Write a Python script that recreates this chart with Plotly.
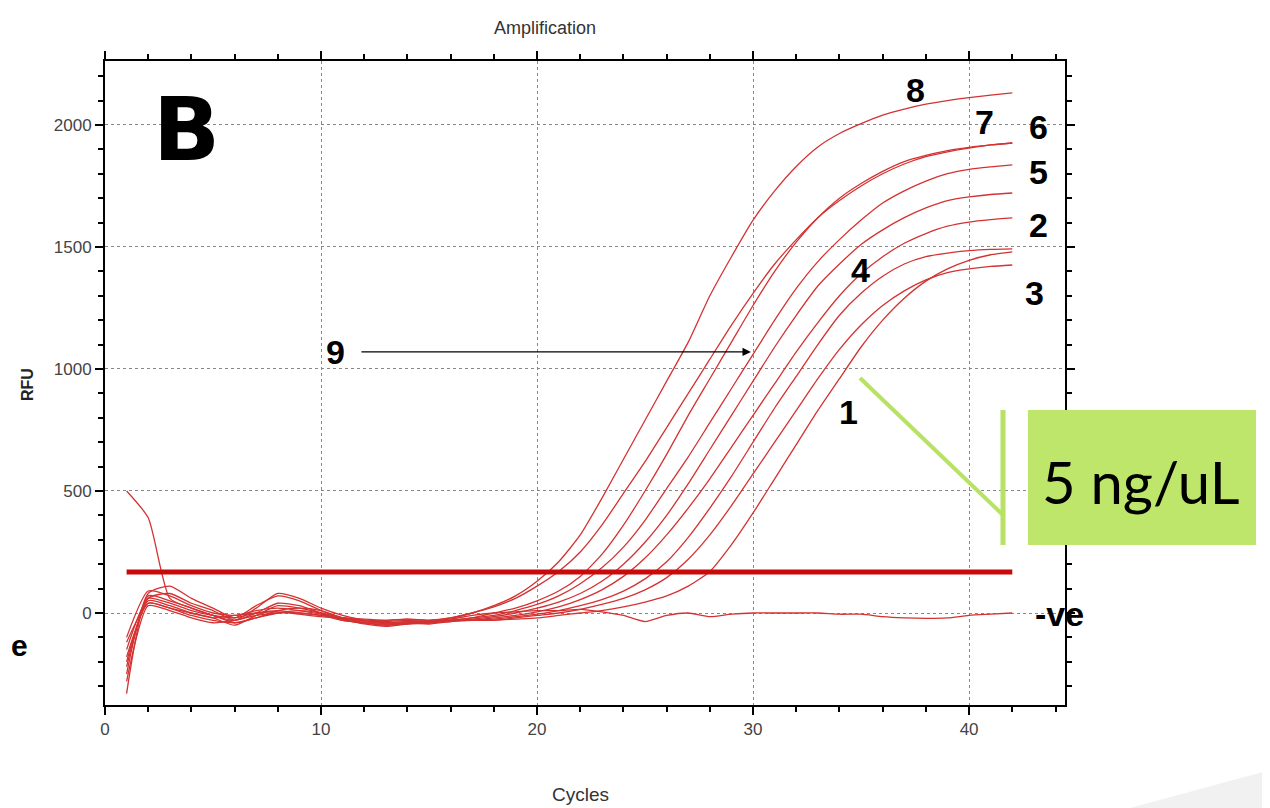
import plotly.graph_objects as go

cycles = list(range(1, 43))

# RFU values per curve, cycles 1..42
curve_8 = [-150, 60, 40, 10, -10, -20, 0, 10, 0, -10, -20, -30, -30, -25, -30, -20,
           0, 30, 70, 130, 210, 320, 470, 630, 790, 950, 1110, 1300, 1460, 1610, 1730,
           1830, 1910, 1965, 2005, 2040, 2065, 2085, 2100, 2112, 2122, 2131]
curve_7 = [500, 390, 60, 20, -10, -40, -20, 0, 10, 0, -20, -30, -40, -35, -30, -20,
           0, 25, 60, 110, 170, 250, 360, 490, 620, 760, 900, 1040, 1180, 1310, 1430,
           1530, 1620, 1690, 1750, 1800, 1840, 1870, 1890, 1905, 1918, 1926]
curve_6 = [-250, 80, 110, 60, 20, -20, 30, 70, 50, 10, -20, -40, -50, -40, -35, -30,
           -20, 0, 20, 50, 90, 150, 240, 360, 500, 650, 810, 960, 1110, 1260, 1400,
           1520, 1620, 1700, 1760, 1810, 1850, 1875, 1895, 1908, 1918, 1926]
curve_5 = [-200, 50, 30, 0, -20, -50, -10, 30, 20, 0, -30, -40, -50, -45, -40, -30,
           -20, -10, 10, 35, 70, 120, 185, 270, 380, 510, 640, 780, 920, 1060, 1200,
           1330, 1440, 1530, 1610, 1680, 1730, 1770, 1800, 1818, 1828, 1836]
curve_9 = [-330, 70, 50, 20, -10, -30, 20, 80, 60, 20, -10, -30, -45, -40, -45, -35,
           -25, -15, 0, 20, 45, 80, 130, 200, 290, 400, 530, 670, 810, 950, 1090,
           1220, 1340, 1430, 1510, 1570, 1620, 1660, 1690, 1705, 1715, 1721]
curve_2 = [-100, 90, 70, 30, 0, -10, 10, 20, 10, -5, -25, -35, -45, -40, -40, -30,
           -30, -20, -10, 5, 25, 55, 95, 150, 225, 320, 430, 550, 680, 810, 940,
           1070, 1190, 1300, 1390, 1460, 1515, 1555, 1585, 1602, 1612, 1619]
curve_4 = [-180, 40, 20, -10, -30, -40, -20, 10, 20, 10, -20, -30, -35, -30, -35, -30,
           -30, -25, -15, -5, 10, 30, 55, 90, 140, 210, 310, 430, 560, 700, 840,
           970, 1100, 1220, 1310, 1380, 1430, 1460, 1475, 1485, 1490, 1492]
curve_3 = [-220, 60, 80, 40, 10, -30, 0, 40, 30, 0, -25, -45, -55, -45, -40, -35,
           -30, -30, -20, -10, 0, 15, 35, 60, 95, 145, 220, 320, 440, 570, 700,
           830, 960, 1080, 1180, 1260, 1320, 1365, 1395, 1410, 1420, 1426]
curve_1 = [-280, 30, 10, -20, -40, -30, -10, 0, 0, -10, -30, -40, -40, -35, -35, -30,
           -30, -30, -25, -20, -10, 0, 10, 25, 45, 70, 110, 170, 280, 410, 550,
           690, 830, 960, 1090, 1200, 1290, 1360, 1410, 1445, 1468, 1480]
curve_neg = [-120, 40, 20, 0, -20, -10, 0, 5, -5, -15, -20, -25, -30, -25, -30, -25,
             -10, 0, 5, 10, 10, 15, 5, -10, -35, -10, 0, -15, -5, 0, 0,
             0, 0, -5, -5, -15, -20, -22, -20, -10, -5, 0]

threshold_rfu = 168
threshold_span = [1, 42]

x_ticks = [0, 10, 20, 30, 40]
y_ticks = [0, 500, 1000, 1500, 2000]

curves = [curve_8, curve_7, curve_6, curve_5, curve_9, curve_2, curve_4, curve_3, curve_1, curve_neg]

# the page body adds an 8px offset; plot area on screen: x 105..1065, y 61..705
OFF = 8

def pxx(p):
    return (p - 105) / 960.0

def pxy(p):
    return (705 - p) / 644.0

fig = go.Figure()
for c in curves:
    fig.add_trace(go.Scatter(x=cycles, y=c, mode="lines",
                             line=dict(color="rgb(212,50,50)", width=1.3, shape="spline", smoothing=0.6),
                             showlegend=False, hoverinfo="skip"))

fig.add_trace(go.Scatter(x=threshold_span, y=[threshold_rfu, threshold_rfu], mode="lines",
                         line=dict(color="rgb(200,10,10)", width=5), showlegend=False, hoverinfo="skip"))

label_font = dict(family="Liberation Sans, Arial, sans-serif", size=34, color="black")
labels = [("8", 37.5, 2143), ("7", 40.7, 2012), ("6", 43.2, 1992), ("5", 43.2, 1807),
          ("2", 43.2, 1590), ("4", 34.95, 1406), ("3", 43.05, 1311), ("1", 34.4, 824),
          ("9", 10.65, 1070)]
annotations = []
for t, x, y in labels:
    annotations.append(dict(x=x, y=y, xref="x", yref="y", text="<b>%s</b>" % t, showarrow=False,
                            font=label_font, xanchor="center", yanchor="middle"))

# arrow for 9
annotations.append(dict(x=29.9, y=1070, ax=11.8, ay=1070, xref="x", yref="y", axref="x", ayref="y",
                        text="", showarrow=True, arrowhead=2, arrowsize=1.2, arrowwidth=1.4,
                        arrowcolor="black"))

annotations += [
    dict(x=pxx(186), y=pxy(130), xref="paper", yref="paper", text="<b>B</b>", showarrow=False,
         font=dict(family="DejaVu Sans, sans-serif", size=88, color="black"),
         xanchor="center", yanchor="middle"),
    dict(x=pxx(545), y=pxy(28), xref="paper", yref="paper", text="Amplification", showarrow=False,
         font=dict(family="Liberation Sans Narrow, Liberation Sans, Arial", size=18, color="#333"),
         xanchor="center", yanchor="middle"),
    dict(x=pxx(28), y=pxy(385), xref="paper", yref="paper", text="<b>RFU</b>", showarrow=False,
         textangle=-90, font=dict(family="Liberation Sans, Arial", size=16, color="#222"),
         xanchor="center", yanchor="middle"),
    dict(x=pxx(580), y=pxy(794), xref="paper", yref="paper", text="Cycles", showarrow=False,
         font=dict(family="Liberation Sans Narrow, Liberation Sans, Arial", size=19, color="#333"),
         xanchor="center", yanchor="middle"),
    dict(x=pxx(1033), y=pxy(614), xref="paper", yref="paper", text="<b>-ve</b>", showarrow=False,
         font=dict(family="Liberation Sans, Arial", size=34, color="black"),
         xanchor="left", yanchor="middle"),
    dict(x=pxx(9), y=pxy(645), xref="paper", yref="paper", text="<b>e</b>", showarrow=False,
         font=dict(family="Liberation Sans, Arial", size=30, color="black"),
         xanchor="left", yanchor="middle"),
    dict(x=pxx(1140), y=pxy(481), xref="paper", yref="paper", text="5 ng/uL", showarrow=False,
         font=dict(family="Lato, Noto Sans, sans-serif", size=58, color="black"),
         xanchor="center", yanchor="middle"),
]

shapes = [
    dict(type="path", xref="paper", yref="paper",
         path="M %f %f L %f %f L %f %f Z" % (pxx(1130), pxy(808), pxx(1270), pxy(770), pxx(1270), pxy(808)),
         fillcolor="#f1f1f1", line=dict(width=0), layer="below"),
    dict(type="rect", xref="paper", yref="paper", x0=pxx(1028), x1=pxx(1256), y0=pxy(545), y1=pxy(410),
         fillcolor="#BDE66A", line=dict(width=0)),
    dict(type="line", xref="paper", yref="paper", x0=pxx(1003), x1=pxx(1003), y0=pxy(545), y1=pxy(410),
         line=dict(color="#B8E263", width=5)),
    dict(type="line", xref="paper", yref="paper", x0=pxx(860), x1=pxx(1003), y0=pxy(378), y1=pxy(515),
         line=dict(color="#B8E263", width=4)),
]

tick_font = dict(family="Liberation Sans Narrow, Liberation Sans, Arial", size=17, color="#444")

fig.update_layout(
    width=1270, height=808,
    margin=dict(l=105 - OFF, r=1270 - 1065 + OFF, t=61 - OFF, b=808 - 705 + OFF),
    paper_bgcolor="white", plot_bgcolor="white",
    annotations=annotations, shapes=shapes,
    xaxis=dict(range=[0, 44.44], tickvals=x_ticks, ticktext=[str(v) for v in x_ticks],
               showgrid=True, gridcolor="#888", griddash="dot", gridwidth=1,
               showline=True, linecolor="black", linewidth=2, mirror="allticks",
               ticks="outside", ticklen=8, tickwidth=2, tickcolor="black",
               minor=dict(dtick=2, tick0=0, ticks="outside", ticklen=5, tickwidth=2, tickcolor="black", showgrid=False),
               tickfont=tick_font, zeroline=False),
    yaxis=dict(range=[-377, 2262], tickvals=y_ticks, ticktext=[str(v) for v in y_ticks],
               showgrid=True, gridcolor="#888", griddash="dot", gridwidth=1,
               showline=True, linecolor="black", linewidth=2, mirror="allticks",
               ticks="outside", ticklen=8, tickwidth=2, tickcolor="black",
               minor=dict(dtick=100, tick0=0, ticks="outside", ticklen=5, tickwidth=2, tickcolor="black", showgrid=False),
               tickfont=tick_font, zeroline=False),
)

fig.write_html("out.html")
